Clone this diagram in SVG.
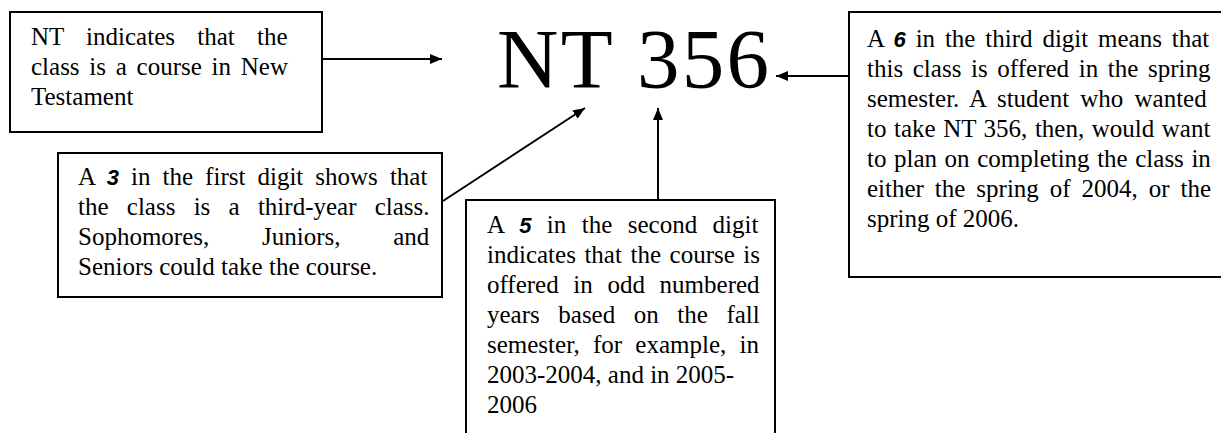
<svg xmlns="http://www.w3.org/2000/svg" width="1221" height="433" viewBox="0 0 1221 433">
<style>
.box{fill:#fff;stroke:#000;stroke-width:2}
.t{font-family:"Liberation Serif","Times New Roman",serif;font-size:25px;fill:#000}
.b{font-family:"Liberation Sans",Arial,sans-serif;font-weight:bold;font-style:italic;font-size:22px}
.big{font-family:"Liberation Serif","Times New Roman",serif;font-size:85px;fill:#000}
.conn{stroke:#000;stroke-width:2;fill:none;marker-end:url(#ah)}
</style>
<defs>
<marker id="ah" viewBox="0 0 12 10" refX="12" refY="5" markerWidth="12" markerHeight="10" markerUnits="userSpaceOnUse" orient="auto">
<path d="M0,0 L12,5 L0,10 Z" fill="#000"/>
</marker>
</defs>
<rect width="1221" height="433" fill="#fff"/>
<g id="title">
<text class="big" x="497" y="88" textLength="272" lengthAdjust="spacing">NT 356</text>
</g>
<g id="connectors">
<line class="conn" x1="322" y1="59" x2="442" y2="59"/>
<line class="conn" x1="443" y1="201" x2="585" y2="108"/>
<line class="conn" x1="658" y1="200" x2="658" y2="108"/>
<line class="conn" x1="849" y1="76" x2="776" y2="76"/>
</g>
<g id="node-nt">
<rect class="box" x="10" y="12" width="312" height="120"/>
<text class="t" x="31" y="45" word-spacing="16">NT indicates that the</text>
<text class="t" x="31" y="75" word-spacing="3.5">class is a course in New</text>
<text class="t" x="31" y="105">Testament</text>
</g>
<g id="node-first-digit">
<rect class="box" x="58" y="153" width="384" height="144"/>
<text class="t" x="78" y="185" word-spacing="5.8">A <tspan class="b">3</tspan> in the first digit shows that</text>
<text class="t" x="78" y="215" word-spacing="12">the class is a third-year class.</text>
<text class="t" x="78" y="245" word-spacing="46.5">Sophomores, Juniors, and</text>
<text class="t" x="78" y="275">Seniors could take the course.</text>
</g>
<g id="node-second-digit">
<rect class="box" x="466" y="200" width="309" height="250"/>
<text class="t" x="487" y="233" word-spacing="9.2">A <tspan class="b">5</tspan> in the second digit</text>
<text class="t" x="487" y="263" word-spacing="2.3">indicates that the course is</text>
<text class="t" x="487" y="293" word-spacing="8.4">offered in odd numbered</text>
<text class="t" x="487" y="323" word-spacing="12.3">years based on the fall</text>
<text class="t" x="487" y="353" word-spacing="7">semester, for example, in</text>
<text class="t" x="487" y="383">2003-2004, and in 2005-</text>
<text class="t" x="487" y="413">2006</text>
</g>
<g id="node-third-digit">
<rect class="box" x="849" y="12" width="380" height="265"/>
<text class="t" x="867" y="47" word-spacing="3.6">A <tspan class="b">6</tspan> in the third digit means that</text>
<text class="t" x="867" y="77" word-spacing="3.4">this class is offered in the spring</text>
<text class="t" x="867" y="107" word-spacing="4.9">semester. A student who wanted</text>
<text class="t" x="867" y="137" word-spacing="1.3">to take NT 356, then, would want</text>
<text class="t" x="867" y="167" word-spacing="1.3">to plan on completing the class in</text>
<text class="t" x="867" y="197" word-spacing="4.7">either the spring of 2004, or the</text>
<text class="t" x="867" y="227">spring of 2006.</text>
</g>
</svg>
